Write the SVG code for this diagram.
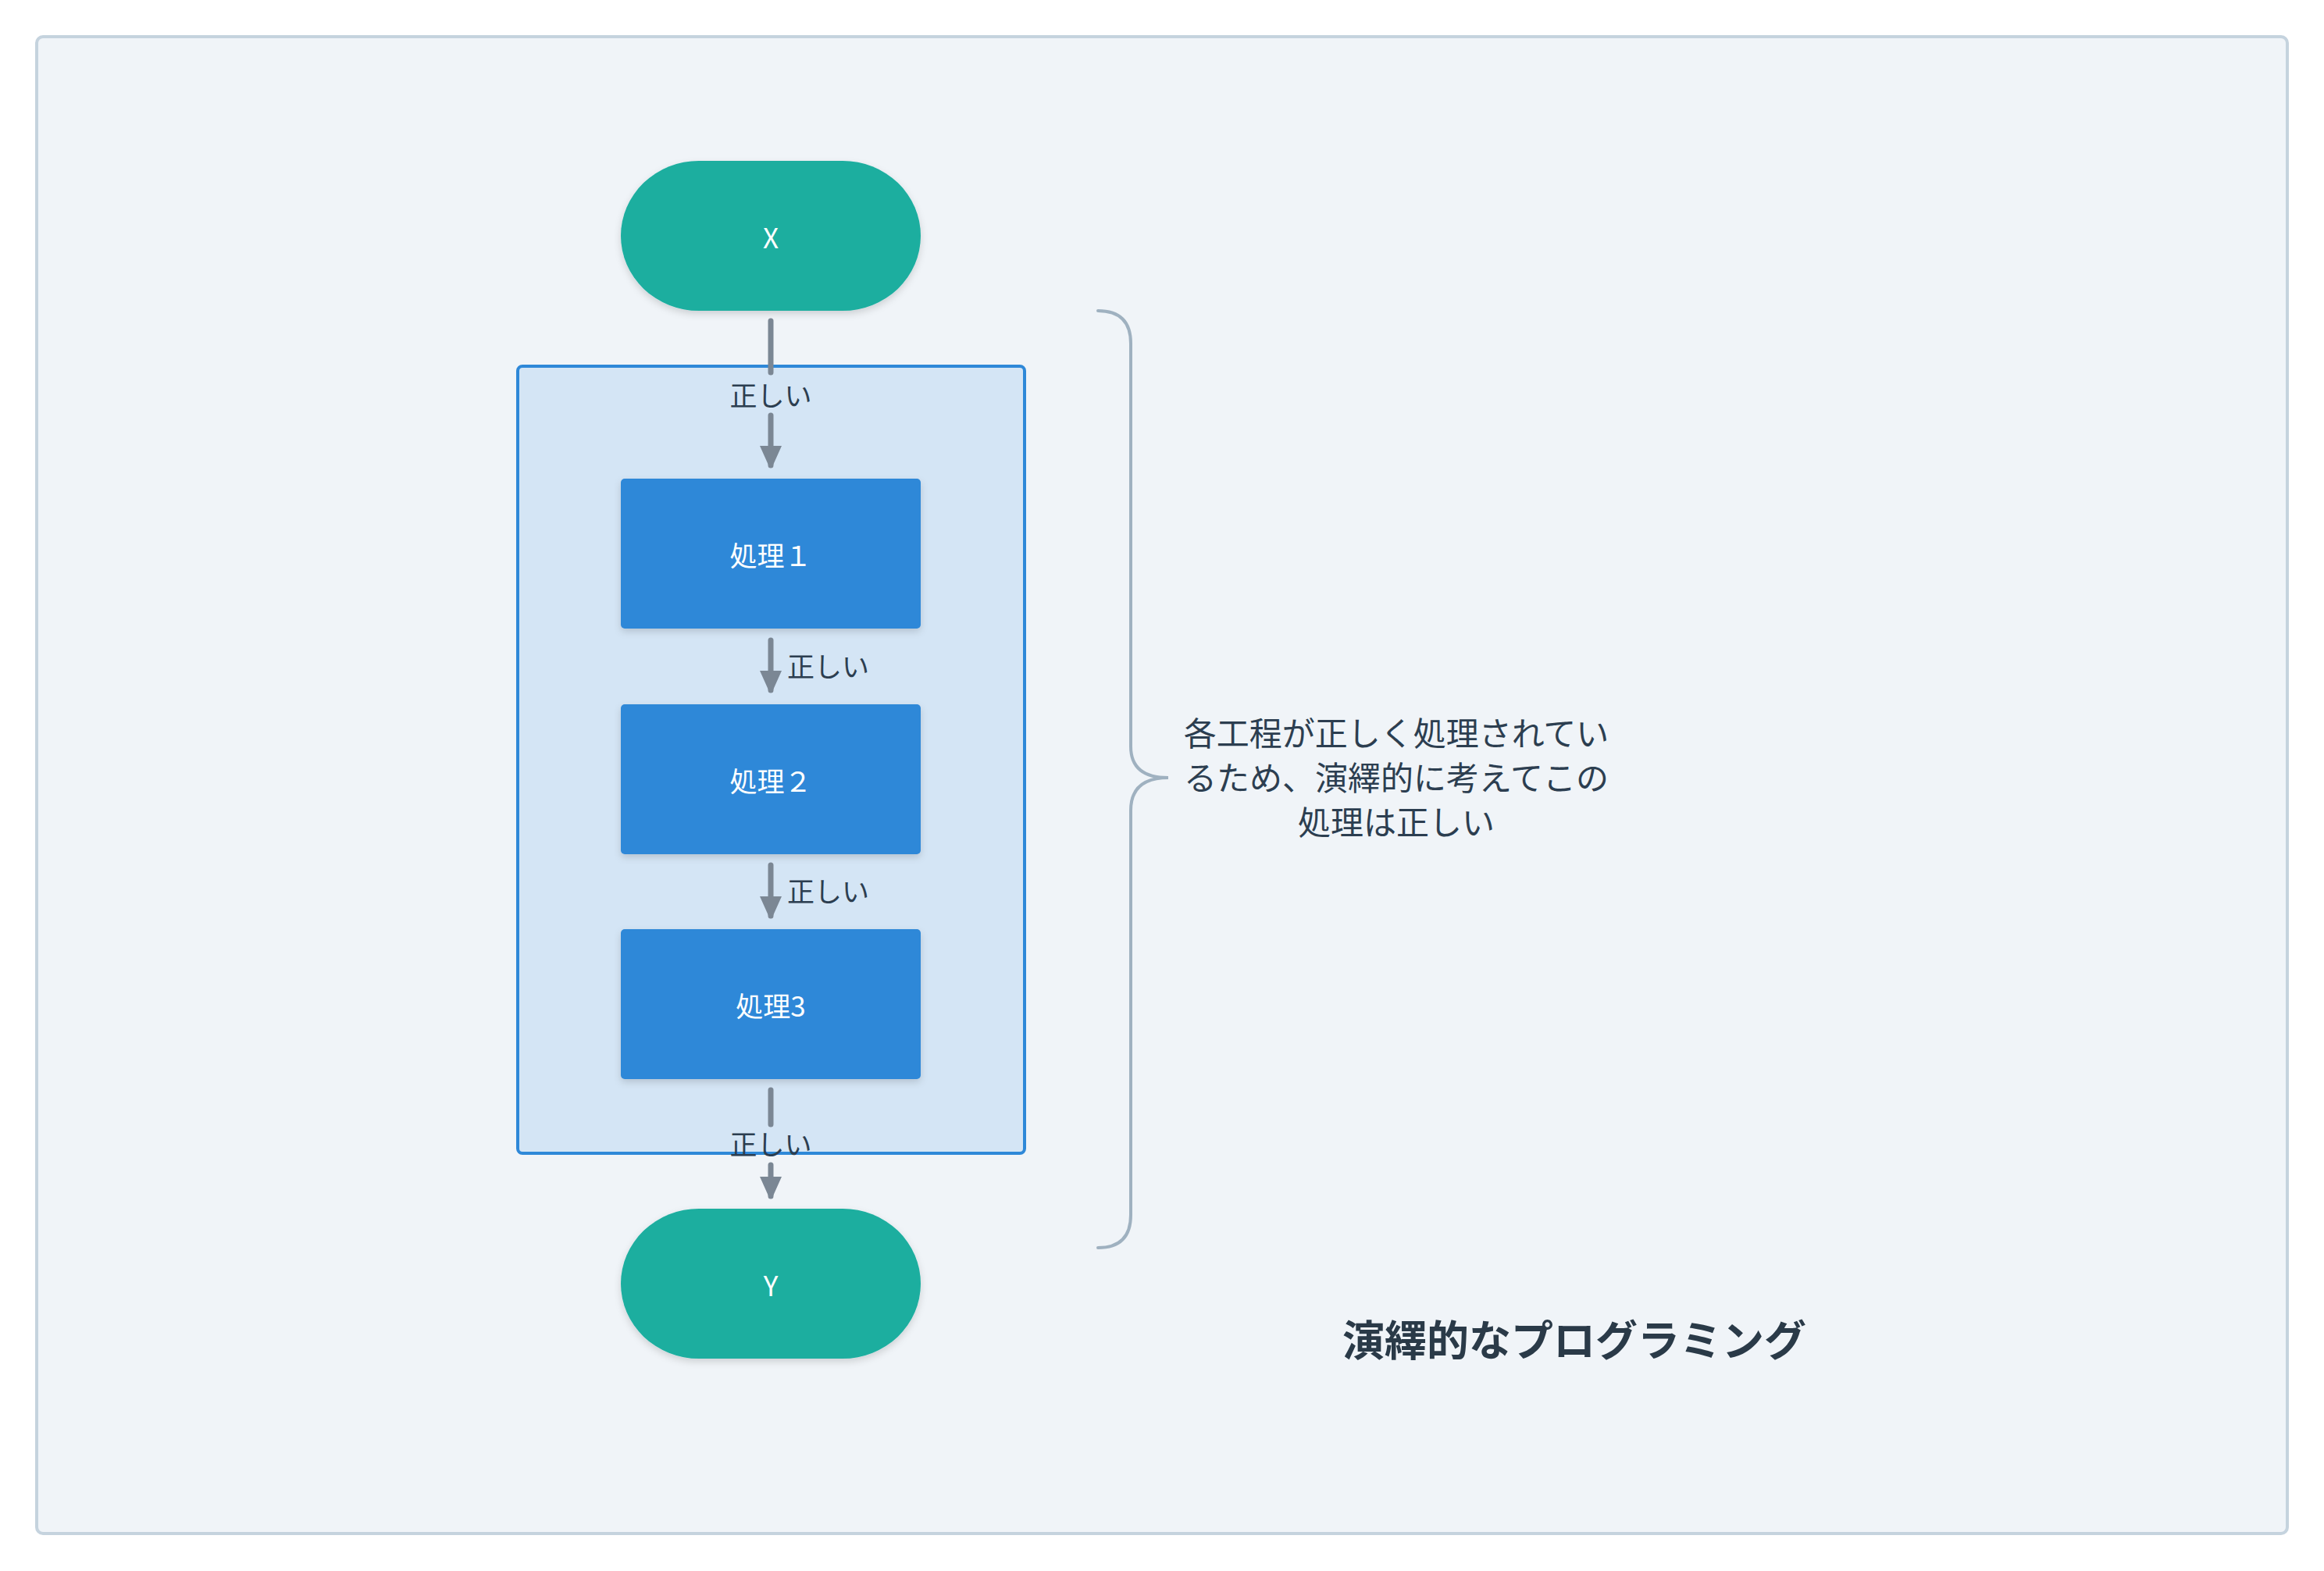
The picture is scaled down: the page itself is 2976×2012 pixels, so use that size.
<svg xmlns="http://www.w3.org/2000/svg" width="2976" height="2012" viewBox="0 0 2976 2012">
  <style>
    text { font-family: "Noto Sans CJK JP", "Noto Sans", sans-serif; }
    .node-label { fill: #ffffff; font-size: 35px; text-anchor: middle; dominant-baseline: central; }
    .edge-label { fill: #2c3e50; font-size: 35px; dominant-baseline: central; }
    .terminal { fill: #1bae9f; filter: url(#shadow); }
    .process { fill: #2e88d8; filter: url(#shadow); }
    .edge { stroke: #7b8794; stroke-width: 7; stroke-linecap: round; fill: none; }
    .desc { fill: #2c3e50; font-size: 42px; text-anchor: middle; }
  </style>
  <defs>
    <filter id="shadow" x="-20%" y="-20%" width="140%" height="150%">
      <feDropShadow dx="0" dy="4" stdDeviation="5" flood-color="#000000" flood-opacity="0.15"/>
    </filter>
    <marker id="arrow" viewBox="0 0 10 10" refX="9" refY="5" markerWidth="4" markerHeight="4" markerUnits="strokeWidth" orient="auto">
      <path d="M0,0.5 L10,5 L0,9.5 Z" fill="#7b8794" stroke="#7b8794" stroke-width="1" stroke-linejoin="round"/>
    </marker>
  </defs>

  <rect x="0" y="0" width="2976" height="2012" fill="#ffffff"/>
  <rect id="frame" x="47" y="47" width="2882" height="1917" rx="8" fill="#f0f4f8" stroke="#c5d3de" stroke-width="4"/>

  <g id="group-processes">
    <rect x="663" y="469" width="649" height="1008" rx="6" fill="#d4e5f5" stroke="#2e88d8" stroke-width="4"/>
  </g>

  <g id="node-x">
    <rect class="terminal" x="795" y="206" width="384" height="192" rx="100" ry="96"/>
    <text class="node-label" x="987" y="302">X</text>
  </g>
  <g id="node-p1">
    <rect class="process" x="795" y="613" width="384" height="192" rx="5"/>
    <text class="node-label" x="987" y="709">処理１</text>
  </g>
  <g id="node-p2">
    <rect class="process" x="795" y="902" width="384" height="192" rx="5"/>
    <text class="node-label" x="987" y="998">処理２</text>
  </g>
  <g id="node-p3">
    <rect class="process" x="795" y="1190" width="384" height="192" rx="5"/>
    <text class="node-label" x="987" y="1286">処理3</text>
  </g>
  <g id="node-y">
    <rect class="terminal" x="795" y="1548" width="384" height="192" rx="100" ry="96"/>
    <text class="node-label" x="987" y="1644">Y</text>
  </g>

  <g id="connectors">
    <line class="edge" x1="987" y1="411" x2="987" y2="477"/>
    <line class="edge" x1="987" y1="532" x2="987" y2="596" marker-end="url(#arrow)"/>
    <text class="edge-label" x="987" y="504" text-anchor="middle">正しい</text>

    <line class="edge" x1="987" y1="820" x2="987" y2="884" marker-end="url(#arrow)"/>
    <text class="edge-label" x="1008" y="851">正しい</text>

    <line class="edge" x1="987" y1="1108" x2="987" y2="1173" marker-end="url(#arrow)"/>
    <text class="edge-label" x="1008" y="1139">正しい</text>

    <line class="edge" x1="987" y1="1396" x2="987" y2="1440"/>
    <line class="edge" x1="987" y1="1492" x2="987" y2="1532" marker-end="url(#arrow)"/>
    <text class="edge-label" x="987" y="1463" text-anchor="middle">正しい</text>
  </g>

  <g id="brace">
    <path d="M1406,398 Q1448,398 1448,440 L1448,956 Q1448,996 1496,996 Q1448,996 1448,1038 L1448,1556 Q1448,1598 1406,1598" fill="none" stroke="#9fb1c0" stroke-width="4" stroke-linecap="round"/>
  </g>

  <g id="description">
    <text class="desc" x="1788" y="955">各工程が正しく処理されてい</text>
    <text class="desc" x="1788" y="1012">るため、演繹的に考えてこの</text>
    <text class="desc" x="1788" y="1069">処理は正しい</text>
  </g>

  <g id="title">
    <text x="2016" y="1713" fill="#2a3a48" font-size="54" font-weight="bold" text-anchor="middle" dominant-baseline="central">演繹的なプログラミング</text>
  </g>
</svg>
